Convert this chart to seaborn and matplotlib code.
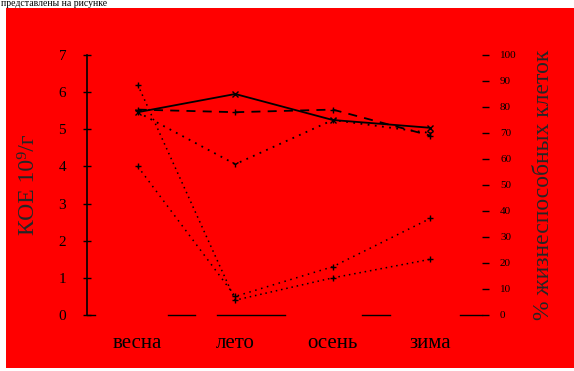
import matplotlib
matplotlib.use('Agg')
import matplotlib.pyplot as plt
import seaborn as sns
import pandas as pd
from matplotlib.patches import Rectangle

# ---- data ----
seasons = ['весна', 'лето', 'осень', 'зима']
cfu_a = [6.2, 0.4, 1.0, 1.5]      # КОЕ, left axis
cfu_b = [4.0, 0.5, 1.3, 2.6]
viable_1 = [78, 85, 75, 72]       # % viable cells, right axis
viable_2 = [79, 78, 79, 69]
viable_3 = [78, 58, 75, 70]
left_ticks = [0, 1, 2, 3, 4, 5, 6, 7]
right_ticks = [0, 10, 20, 30, 40, 50, 60, 70, 80, 90, 100]
left_label = 'КОЕ 10⁹/г'
right_label = '% жизнеспособных клеток'
top_text = 'представлены на рисунке'

sns.set_theme(style='white')
plt.rcParams['font.family'] = ['Liberation Serif', 'DejaVu Serif']

pos = list(range(len(seasons)))
df_left = pd.DataFrame({
    'x': pos * 2,
    'value': cfu_a + cfu_b,
    'series': ['a'] * 4 + ['b'] * 4,
})
df_right = pd.DataFrame({
    'x': pos * 3,
    'value': viable_1 + viable_2 + viable_3,
    'series': ['v1'] * 4 + ['v2'] * 4 + ['v3'] * 4,
})

W, H = 574, 371
fig = plt.figure(figsize=(W / 100, H / 100), dpi=100)
fig.patch.set_facecolor('white')
bg = Rectangle((6 / W, 3 / H), 1 - 6 / W, 360 / H,
               transform=fig.transFigure, facecolor='#ff0000',
               edgecolor='none', zorder=-10)
fig.patches.append(bg)
fig.text(0.001, 1 - 6.5 / H, top_text, fontsize=7, va='baseline', ha='left',
         color='black')

ax = fig.add_axes([87 / W, 56 / H, (482 - 87) / W, 260 / H])
ax.set_facecolor('none')
ax2 = ax.twinx()
ax2.set_facecolor('none')

sns.lineplot(data=df_left, x='x', y='value', style='series', color='black',
             dashes={'a': (1, 2.5), 'b': (1, 3)},
             markers={'a': '+', 'b': '+'}, markersize=5, linewidth=1.1,
             markeredgecolor='black', markeredgewidth=1,
             ax=ax, legend=False)
sns.lineplot(data=df_right, x='x', y='value', style='series', color='black',
             dashes={'v1': (None, None), 'v2': (5, 4), 'v3': (1, 3)},
             markers={'v1': 'x', 'v2': '+', 'v3': '1'}, markersize=5,
             markeredgecolor='black', markeredgewidth=1,
             linewidth=1.3, ax=ax2, legend=False)

ax.set_xlim(-0.52, 3.53)
ax.set_ylim(0, 7)
ax2.set_ylim(0, 100)
ax.set_xticks(pos)
ax.set_xticklabels(seasons, fontsize=15)
ax.set_yticks(left_ticks)
ax.set_yticklabels([str(t) for t in left_ticks], fontsize=11)
ax2.set_yticks(right_ticks)
ax2.set_yticklabels([str(t) for t in right_ticks], fontsize=8)

ax.set_xlabel('')
ax.set_ylabel(left_label, fontsize=17, labelpad=14)
ax2.set_ylabel(right_label, fontsize=17, rotation=90, labelpad=12)
ax2.yaxis.set_label_position('right')

for a in (ax, ax2):
    for s in a.spines.values():
        s.set_visible(False)
ax.spines['left'].set_visible(True)
ax.spines['left'].set_color('black')
ax.spines['left'].set_linewidth(1.2)
ax.spines['bottom'].set_visible(True)
ax.spines['bottom'].set_color('black')
ax.spines['bottom'].set_linewidth(1.0)
px = 0.72
ax.spines['bottom'].set_linestyle(
    (0, (8 * px, 73 * px, 27 * px, 22 * px, 68 * px, 77 * px,
         28 * px, 70 * px, 25 * px, 20 * px)))

ax.tick_params(axis='y', direction='inout', length=6, width=1, color='black',
               left=True, pad=12, labelcolor='black')
ax.tick_params(axis='x', length=0, pad=14, labelcolor='black')
ax2.tick_params(axis='y', direction='out', length=5, width=1, color='black',
                right=True, pad=8, labelcolor='black')

fig.savefig('out.png', dpi=100, facecolor=fig.get_facecolor())
